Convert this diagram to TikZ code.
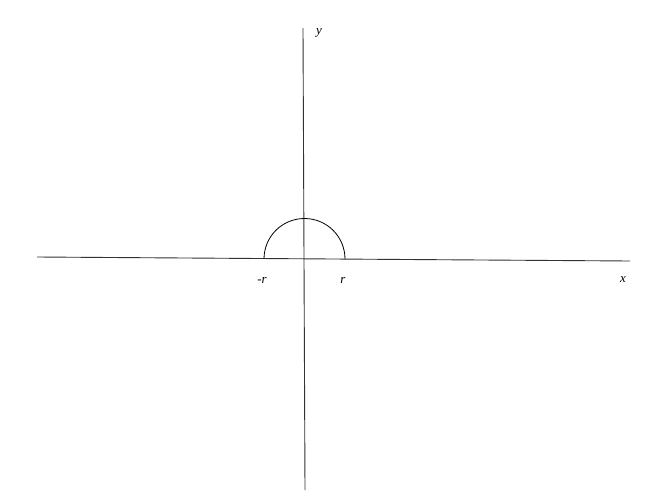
\documentclass[tikz,border=0pt]{standalone}
\usepackage{fontspec}
\setmainfont{Liberation Serif}
\usetikzlibrary{positioning,calc}
\tikzset{axis/.style={draw=black!80,line width=0.9pt},
  lbl/.style={font=\itshape\fontsize{13}{15}\selectfont,inner sep=0pt}}

\begin{document}
\begin{tikzpicture}[x=1pt,y=-1pt]
  \useasboundingbox (0,0) rectangle (648,498);
  \coordinate (xl) at (37,257);
  \coordinate (xr) at (630,261);
  \coordinate (yt) at (303,28);
  \coordinate (yb) at (305,490);
  \coordinate (o) at (304.5,259);
  \draw[axis] (xl) -- (xr);
  \draw[axis] (yt) -- (yb);
  \draw[black,line width=0.8pt] ($(o)+(-40.5,0)$) arc[start angle=180,end angle=360,radius=40.5];
  \node[lbl] (ylab) at (319,33) {y};
  \node[lbl] (xlab) at (623,280) {x};
  \node[lbl] (mr) at (262,280) {-r};
  \node[lbl] (pr) at (343,280) {r};
\end{tikzpicture}
\end{document}
